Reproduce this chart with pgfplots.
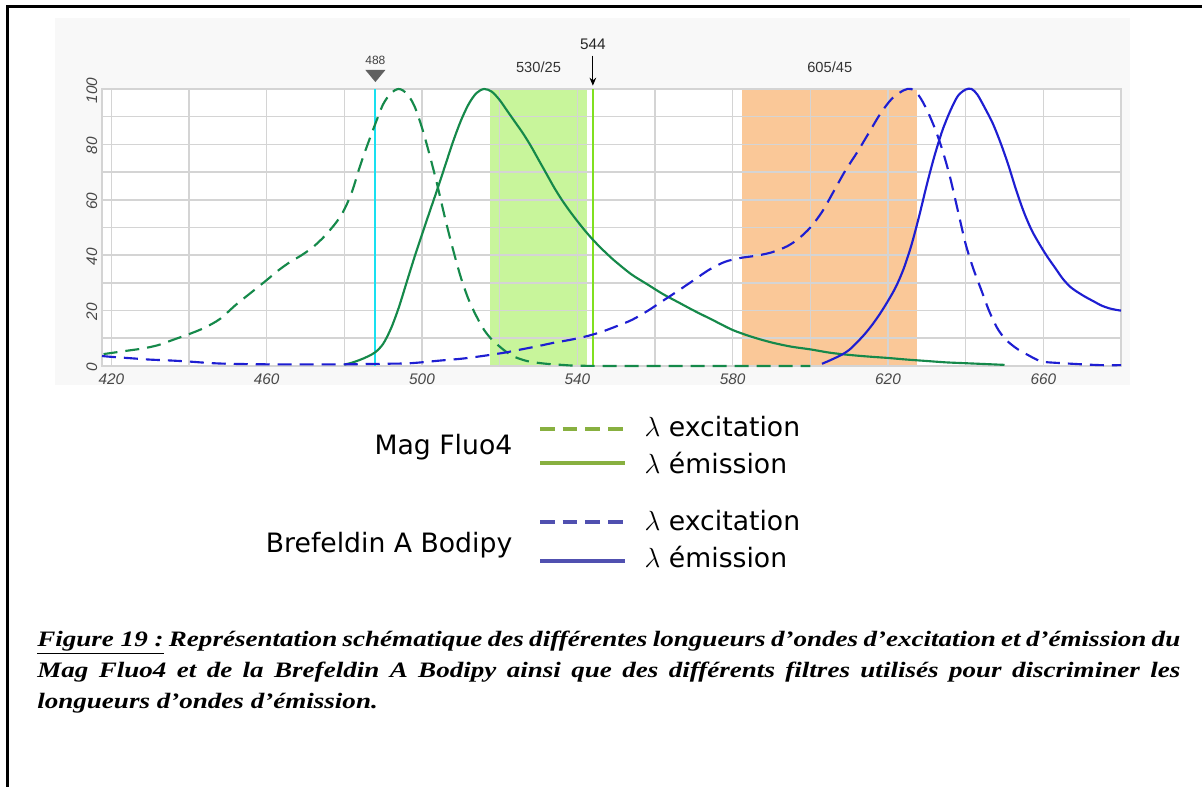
\documentclass[border=0pt]{standalone}
\usepackage{pgfplots}
\pgfplotsset{compat=1.18}
\usetikzlibrary{arrows.meta}
\usepackage{fontspec}
\setmainfont{Liberation Sans}
\newfontfamily\capfont[FakeStretch=1.23]{Liberation Serif}
\newfontfamily\legfont{DejaVu Sans}
\definecolor{gcurve}{HTML}{15894A}
\definecolor{bcurve}{HTML}{1E1ED2}
\definecolor{gband}{HTML}{C8F59B}
\definecolor{oband}{HTML}{FAC898}
\definecolor{cyanl}{HTML}{19E0F0}
\definecolor{limel}{HTML}{80E020}
\definecolor{gleg}{HTML}{88B040}
\definecolor{bleg}{HTML}{5050B0}
\definecolor{gridc}{HTML}{D4D4D4}
\definecolor{panel}{HTML}{F8F8F8}
\definecolor{ticklab}{HTML}{484848}
\pgfplotsset{
  layers/mylayers/.define layer set={
    panel,axis background,axis grid,axis ticks,axis lines,axis tick labels,pre main,main,axis descriptions,axis foreground
  }{
    grid style={/pgfplots/on layer=axis grid},
    tick style={/pgfplots/on layer=axis ticks},
    axis line style={/pgfplots/on layer=axis lines},
    label style={/pgfplots/on layer=axis descriptions},
    legend style={/pgfplots/on layer=axis descriptions},
    title style={/pgfplots/on layer=axis descriptions},
    ticklabel style={/pgfplots/on layer=axis tick labels},
    axis background@ style={/pgfplots/on layer=axis background},
  },
}
\begin{document}
\begin{tikzpicture}[x=0.75pt,y=0.75pt]
\draw[line width=2.25pt] (7,-13) -- (7,780) -- (1215,780);
\begin{axis}[
  at={(76.5pt,315.75pt)}, anchor=south west,
  width=764.25pt, height=207.75pt, scale only axis,
  xmin=417.6, xmax=680, ymin=0, ymax=100,
  xtick={420,460,...,660}, minor xtick={440,480,...,680},
  ytick={0,20,...,100}, minor ytick={10,30,...,90},
  major tick length=0pt, minor tick length=0pt,
  grid=both,
  major grid style={gridc, line width=1.2pt},
  minor grid style={gridc, line width=1.2pt},
  axis line style={gridc, line width=1.2pt},
  set layers=mylayers,
  axis background/.style={fill=white},
  tick label style={font=\itshape\fontsize{11.5}{13}\selectfont, color=ticklab},
  xticklabel style={yshift=-2pt},
  yticklabel style={rotate=90, anchor=south, xshift=-1pt},
  /pgf/number format/assume math mode=true,
  clip=false,
]
\begin{pgfonlayer}{panel}
\fill[panel] (rel axis cs:-0.0461,-0.0686) rectangle (rel axis cs:1.0088,1.2563);
\end{pgfonlayer}
% filter bands
\addplot[on layer=axis background, fill=gband, draw=none] coordinates {(517.5,100) (542.5,100)} \closedcycle;
\addplot[on layer=axis background, fill=oband, draw=none] coordinates {(582.5,100) (627.5,100)} \closedcycle;
% laser lines
\addplot[cyanl, line width=1.5pt] coordinates {(488,0) (488,100)};
\addplot[limel, line width=1.5pt] coordinates {(544,0) (544,100)};
% Mag Fluo4 excitation
\addplot[gcurve, line width=1.6pt, dash pattern=on 10.5pt off 6pt, smooth, tension=0.5] coordinates {
(418,4.3) (420,4.7) (424,5.5) (428,6.3) (432,7.5) (436,9.5) (440,11.5) (444,13.8) (448,17) (452,22) (456,26.5) (460,31)
(463,34.5) (466,37.5) (469,40) (472,43) (475,47) (478,52) (480,56.5) (482,63) (484,72) (486,80) (488,87.5) (490,94.5) (492,98.5)
(494,100) (496,98.5) (498,94) (500,86) (502,76) (504,65) (506,53) (508,42) (510,32) (512,24) (514,18) (516,13) (518,9.5)
(520,7) (522,4.8) (524,3.2) (526,2.2) (528,1.5) (532,0.8) (536,0.4) (540,0.1) (550,0) (560,0) (580,0) (600,0)};
% Mag Fluo4 emission
\addplot[gcurve, line width=1.6pt, smooth, tension=0.5] coordinates {
(480,0.5) (482,1.2) (484,2.2) (486,3.4) (488,5) (490,8) (492,13.5) (494,21) (496,30) (498,39) (500,47.5) (502,55.8) (504,64)
(506,72.5) (508,81) (510,88.5) (512,94.5) (514,98.5) (516,100) (518,99) (520,96) (522,92) (524,88) (526,84) (528,79.5)
(530,74.5) (532,69.5) (534,64.5) (536,60) (538,56) (540,52.3) (542,48.8) (544,45.6) (546,42.7) (548,40) (550,37.5) (554,33)
(558,29.5) (562,26) (566,23) (570,20) (575,16.5) (580,13) (585,10.5) (590,8.5) (595,7) (600,6) (605,4.8) (610,4) (615,3.4)
(620,2.9) (625,2.3) (630,1.8) (635,1.3) (640,1) (645,0.7) (650,0.4)};
% Brefeldin A Bodipy excitation
\addplot[bcurve, line width=1.6pt, dash pattern=on 10.5pt off 6pt, smooth, tension=0.5] coordinates {
(417.6,3.6) (420,3.3) (425,2.8) (430,2.3) (435,2) (440,1.6) (445,1.1) (450,0.8) (460,0.6) (470,0.6) (480,0.6) (490,0.8)
(497,1) (505,2) (510,2.6) (514,3.3) (518,4.1) (522,5) (526,6.1) (530,7.2) (534,8.4) (538,9.4) (542,10.6) (546,12.2) (550,14.3)
(554,16.6) (558,19.8) (562,23.5) (566,27.2) (570,31) (574,34.8) (578,37.6) (582,39) (586,39.8) (590,41) (594,43.2) (597,46)
(600,50) (603,55.6) (606,63) (609,70.5) (612,77) (615,84) (618,91) (621,96.5) (624,99.5) (626,100) (628,97.5) (630,92.5)
(632,86) (634,78) (636,68) (638,56) (640,44) (642,35) (644,27.5) (646,20) (648,14) (650,10) (652,7.5) (654,5.5) (656,4)
(658,2.5) (660,1.5) (665,1) (670,0.6) (675,0.3) (680,0.3)};
% Brefeldin A Bodipy emission
\addplot[bcurve, line width=1.6pt, smooth, tension=0.5] coordinates {
(603,0.8) (605,2) (608,4) (610,5.8) (612,8.5) (614,11.5) (616,15) (618,19) (620,23.5) (622,28.5) (624,35) (626,43.5) (628,54)
(630,65.5) (632,76) (634,85) (636,92) (638,97.5) (640,99.8) (641.5,100) (643,98) (645,93) (647,87.5) (649,80.5) (651,72.5)
(653,63.5) (655,55.5) (657,49) (659,44) (661,39.5) (663,35.5) (665,31.5) (667,28.5) (669,26.5) (671,24.8) (673,23.3) (675,21.8)
(677,20.8) (679,20.2) (680,20)};
% annotations
\fill[gray!75!black] (axis cs:485.4,106.9) -- (axis cs:490.6,106.9) -- (axis cs:488,102.5) -- cycle;
\node[font=\fontsize{9}{10}\selectfont, text=black!75] at (axis cs:488,110.3) {488};
\node[font=\fontsize{11}{12}\selectfont, text=black!80] at (axis cs:530,107.8) {530/25};
\node[font=\fontsize{11}{12}\selectfont, text=black!80] at (axis cs:605,107.8) {605/45};
\node[font=\fontsize{11.5}{12}\selectfont, text=black!85] at (axis cs:544,116.2) {544};
\draw[-{Stealth[length=6pt,width=5pt]}, line width=0.8pt] (axis cs:544,112) -- (axis cs:544,101.2);
\end{axis}
% legend
\node[anchor=east, font=\legfont\fontsize{20}{22}\selectfont] at (517,340) {Mag Fluo4};
\draw[gleg, line width=2.4pt, dash pattern=on 11pt off 6pt] (540,358) -- (625,358);
\draw[gleg, line width=2.4pt] (540,324) -- (625,324);
\node[anchor=west, font=\legfont\fontsize{20}{22}\selectfont] at (640,360) {$\lambda$ excitation};
\node[anchor=west, font=\legfont\fontsize{20}{22}\selectfont] at (640,324) {$\lambda$ émission};
\node[anchor=east, font=\legfont\fontsize{20}{22}\selectfont] at (517,242) {Brefeldin A Bodipy};
\draw[bleg, line width=2.4pt, dash pattern=on 11pt off 6pt] (540,265) -- (625,265);
\draw[bleg, line width=2.4pt] (540,226) -- (625,226);
\node[anchor=west, font=\legfont\fontsize{20}{22}\selectfont] at (640,266) {$\lambda$ excitation};
\node[anchor=west, font=\legfont\fontsize{20}{22}\selectfont] at (640,230) {$\lambda$ émission};
% caption
\node[anchor=base west, inner sep=0pt, font=\capfont\bfseries\itshape\fontsize{16.5}{18}\selectfont] at (37,140)
  {\makebox[857.25pt][s]{\underline{Figure 19 :} Représentation schématique des différentes longueurs d’ondes d’excitation et d’émission du}};
\node[anchor=base west, inner sep=0pt, font=\capfont\bfseries\itshape\fontsize{16.5}{18}\selectfont] at (37,109)
  {\makebox[857.25pt][s]{Mag Fluo4 et de la Brefeldin A Bodipy ainsi que des différents filtres utilisés pour discriminer les}};
\node[anchor=base west, inner sep=0pt, font=\capfont\bfseries\itshape\fontsize{16.5}{18}\selectfont] at (37,78)
  {longueurs d’ondes d’émission.};
\pgfresetboundingbox
\path[use as bounding box] (0,0) rectangle (1202,787);
\end{tikzpicture}
\end{document}
